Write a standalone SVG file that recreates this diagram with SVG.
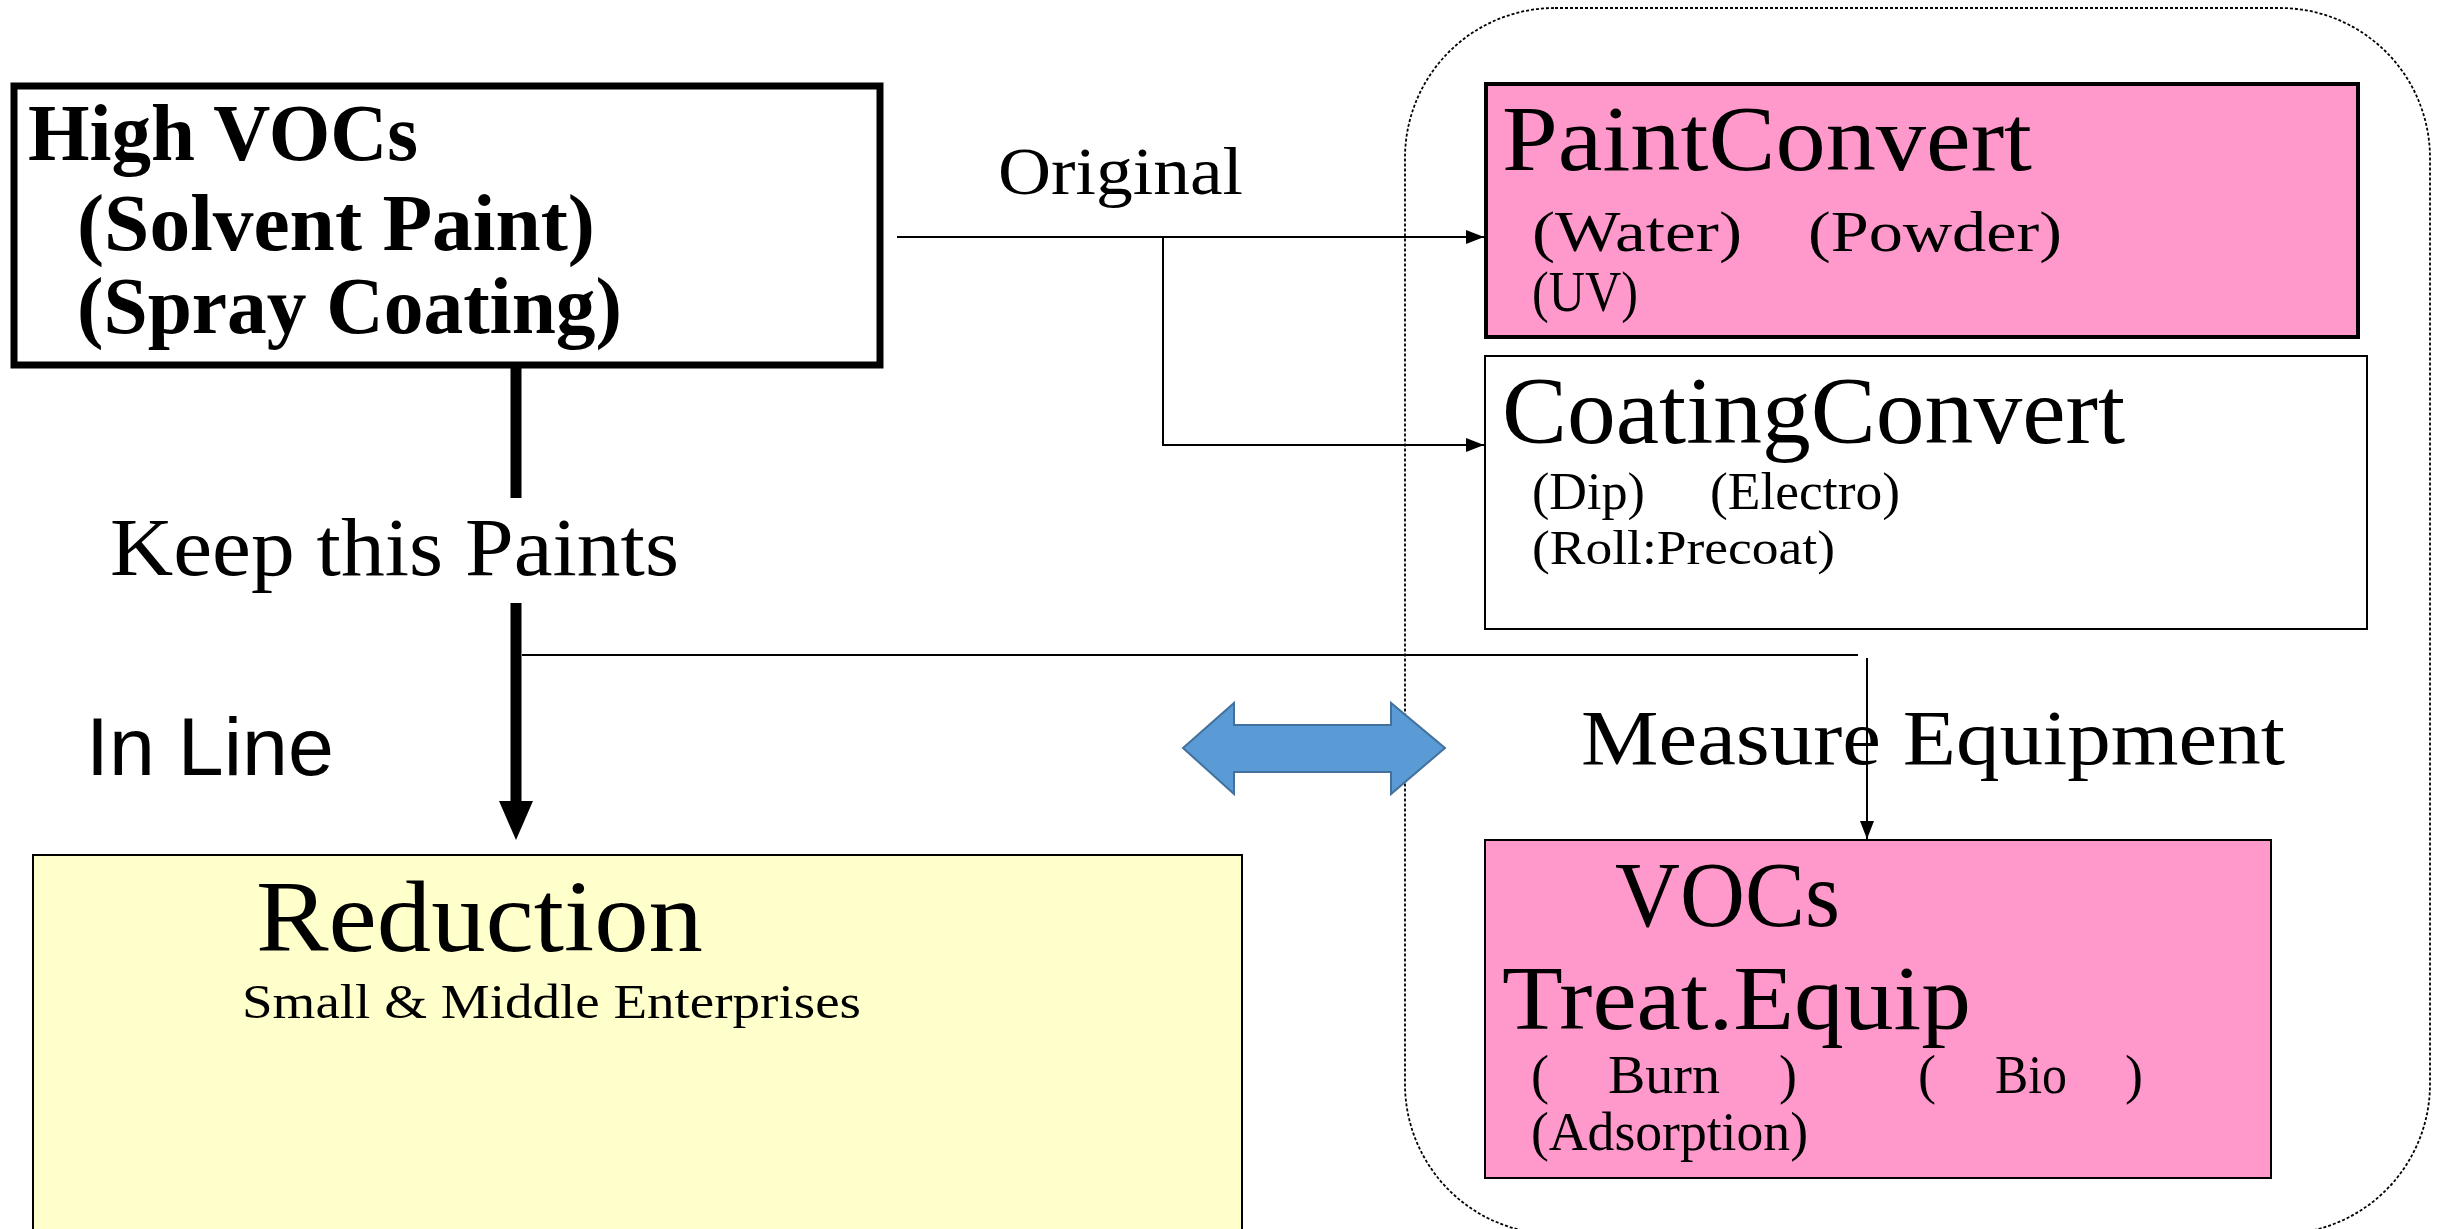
<svg xmlns="http://www.w3.org/2000/svg" width="2446" height="1229" viewBox="0 0 2446 1229">
  <style>
    .serif { font-family: "Liberation Serif", "Times New Roman", serif; fill: #000; }
    .sans { font-family: "Liberation Sans", Arial, sans-serif; fill: #000; }
    .bold { font-weight: bold; }
    .thin { stroke: #000; stroke-width: 2; fill: none; }
    .pink { fill: #FF99CC; stroke: #000; }
  </style>
  <defs>
    <marker id="arrowSmall" markerUnits="userSpaceOnUse" markerWidth="20" markerHeight="14" refX="18" refY="7" orient="auto">
      <path d="M0,0 L18,7 L0,14 Z" fill="#000"/>
    </marker>
  </defs>

  <rect width="2446" height="1229" fill="#fff"/>

  <!-- dotted grouping outline around the alternatives -->
  <g id="alternatives-group">
    <rect x="1405" y="8" width="1025" height="1226" rx="150" ry="150" fill="none" stroke="#000" stroke-width="1.8" stroke-dasharray="3 2"/>
  </g>

  <!-- connectors -->
  <g id="connectors">
    <line x1="516" y1="368" x2="516" y2="498" stroke="#000" stroke-width="11"/>
    <line x1="516" y1="603" x2="516" y2="805" stroke="#000" stroke-width="11"/>
    <polygon points="499,801 533,801 516,840" fill="#000"/>
    <path class="thin" d="M897,237 H1484" marker-end="url(#arrowSmall)"/>
    <path class="thin" d="M1163,237 V445 H1484" marker-end="url(#arrowSmall)"/>
    <path class="thin" d="M522,655 H1858"/>
    <path class="thin" d="M1867,658 V839" marker-end="url(#arrowSmall)"/>
    <polygon points="1183,748 1234,703 1234,725 1391,725 1391,703 1445,748 1391,794 1391,772 1234,772 1234,794" fill="#5B9BD5" stroke="#41719C" stroke-width="2"/>
  </g>

  <!-- free labels -->
  <g id="labels">
    <text class="serif" x="998" y="194" font-size="68" textLength="245" lengthAdjust="spacingAndGlyphs">Original</text>
    <text class="serif" x="110" y="575" font-size="82" textLength="569" lengthAdjust="spacingAndGlyphs">Keep this Paints</text>
    <text class="sans" x="86" y="775" font-size="82" textLength="248" lengthAdjust="spacingAndGlyphs">In Line</text>
    <text class="serif" x="1581" y="764" font-size="78" textLength="704" lengthAdjust="spacingAndGlyphs">Measure Equipment</text>
  </g>

  <g id="high-vocs">
    <rect x="14" y="86" width="866" height="279" fill="#fff" stroke="#000" stroke-width="7"/>
    <text class="serif bold" x="28" y="160" font-size="80" textLength="390" lengthAdjust="spacingAndGlyphs">High VOCs</text>
    <text class="serif bold" x="77" y="250" font-size="80" textLength="518" lengthAdjust="spacingAndGlyphs">(Solvent Paint)</text>
    <text class="serif bold" x="77" y="333" font-size="80" textLength="545" lengthAdjust="spacingAndGlyphs">(Spray Coating)</text>
  </g>

  <g id="reduction">
    <rect x="33" y="855" width="1209" height="400" fill="#FFFFCC" stroke="#000" stroke-width="2"/>
    <text class="serif" x="256" y="951" font-size="102" textLength="447" lengthAdjust="spacingAndGlyphs">Reduction</text>
    <text class="serif" x="242" y="1018" font-size="48" textLength="619" lengthAdjust="spacingAndGlyphs">Small &amp; Middle Enterprises</text>
  </g>

  <g id="paint-convert">
    <rect class="pink" x="1486" y="84" width="872" height="253" stroke-width="4"/>
    <text class="serif" x="1502" y="170" font-size="94" textLength="530" lengthAdjust="spacingAndGlyphs">PaintConvert</text>
    <text class="serif" x="1532" y="251" font-size="58" textLength="210" lengthAdjust="spacingAndGlyphs">(Water)</text>
    <text class="serif" x="1808" y="251" font-size="58" textLength="254" lengthAdjust="spacingAndGlyphs">(Powder)</text>
    <text class="serif" x="1532" y="311" font-size="58" textLength="106" lengthAdjust="spacingAndGlyphs">(UV)</text>
  </g>

  <g id="coating-convert">
    <rect x="1485" y="356" width="882" height="273" fill="#fff" stroke="#000" stroke-width="2"/>
    <text class="serif" x="1502" y="443" font-size="96" textLength="623" lengthAdjust="spacingAndGlyphs">CoatingConvert</text>
    <text class="serif" x="1532" y="509" font-size="52" textLength="113" lengthAdjust="spacingAndGlyphs">(Dip)</text>
    <text class="serif" x="1710" y="509" font-size="52" textLength="190" lengthAdjust="spacingAndGlyphs">(Electro)</text>
    <text class="serif" x="1532" y="564" font-size="48" textLength="303" lengthAdjust="spacingAndGlyphs">(Roll:Precoat)</text>
  </g>

  <g id="vocs-treat-equip">
    <rect class="pink" x="1485" y="840" width="786" height="338" stroke-width="2"/>
    <text class="serif" x="1615" y="926" font-size="94" textLength="225" lengthAdjust="spacingAndGlyphs">VOCs</text>
    <text class="serif" x="1502" y="1029" font-size="92" textLength="469" lengthAdjust="spacingAndGlyphs">Treat.Equip</text>
    <text class="serif" font-size="54" y="1093">
      <tspan x="1531">(</tspan><tspan x="1608" textLength="112" lengthAdjust="spacingAndGlyphs">Burn</tspan><tspan x="1779">)</tspan>
      <tspan x="1918">(</tspan><tspan x="1995" textLength="72" lengthAdjust="spacingAndGlyphs">Bio</tspan><tspan x="2125">)</tspan>
    </text>
    <text class="serif" x="1531" y="1150" font-size="54" textLength="277" lengthAdjust="spacingAndGlyphs">(Adsorption)</text>
  </g>
</svg>
